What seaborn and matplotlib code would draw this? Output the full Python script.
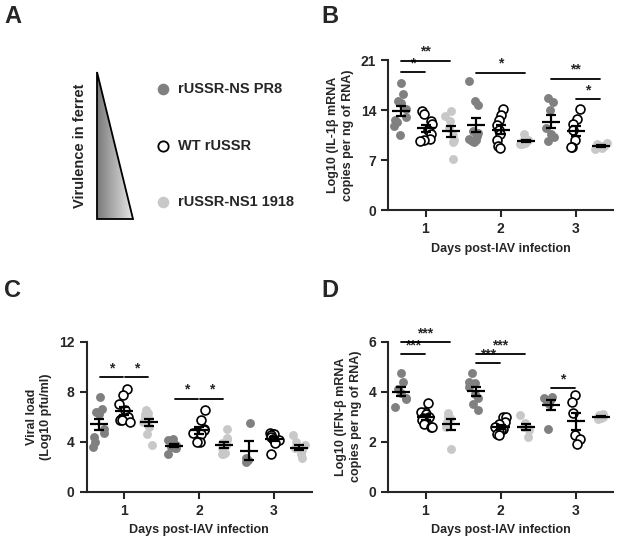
import numpy as np
import pandas as pd
import matplotlib
matplotlib.use("Agg")
import matplotlib.pyplot as plt
import seaborn as sns
from matplotlib.patches import Polygon
from matplotlib.colors import LinearSegmentedColormap

# ---------------- data ----------------
groups = ["rUSSR-NS PR8", "WT rUSSR", "rUSSR-NS1 1918"]
days = [1, 2, 3]
day_labels = ["1", "2", "3"]

# Panel B: Log10 IL-1beta mRNA copies (per group, per day)
il1b_pr8 = [[17.8, 16.3, 15.3, 15.0, 14.2, 13.0, 12.6, 12.3, 11.7, 10.5],
            [18.0, 15.2, 14.7, 11.0, 10.8, 10.3, 10.0, 9.8, 9.6, 9.5],
            [15.7, 15.1, 14.0, 11.5, 10.6, 10.2, 9.6]]
il1b_wt = [[13.8, 13.4, 12.5, 12.0, 11.2, 10.6, 10.0, 9.8, 9.6],
           [14.2, 13.3, 12.6, 11.9, 11.2, 10.6, 9.8, 9.0, 8.7],
           [14.1, 12.7, 12.0, 11.2, 9.8, 8.8, 8.8]]
il1b_1918 = [[13.9, 13.2, 12.5, 11.5, 10.5, 9.8, 9.5, 7.2],
             [10.6, 9.8, 9.6, 9.5, 9.5, 9.4, 9.3, 9.2],
             [9.4, 9.2, 9.0, 9.0, 8.9, 8.8, 8.7, 8.6]]

# Panel C: viral load, Log10 pfu/ml
vl_pr8 = [[7.6, 6.6, 6.4, 6.2, 5.0, 4.7, 4.4, 4.0, 3.6],
          [4.2, 4.1, 3.9, 3.7, 3.6, 3.5, 3.5, 3.0],
          [5.5, 2.7, 2.5, 2.4]]
vl_wt = [[8.2, 7.7, 7.0, 6.5, 6.0, 5.8, 5.7, 5.7, 5.6],
         [6.5, 5.7, 5.0, 4.9, 4.8, 4.7, 4.6, 4.0, 4.0],
         [4.7, 4.6, 4.6, 4.5, 4.4, 4.2, 4.1, 3.9, 3.0]]
vl_1918 = [[6.5, 6.3, 6.2, 6.0, 5.8, 5.6, 5.2, 4.6, 3.7],
           [5.0, 4.3, 4.1, 3.9, 3.7, 3.5, 3.1, 3.0, 3.0],
           [4.5, 4.0, 3.7, 3.5, 3.3, 3.0, 2.7]]

# Panel D: Log10 IFN-beta mRNA copies
ifn_pr8 = [[4.75, 4.4, 4.1, 3.95, 3.75, 3.7, 3.4],
           [4.75, 4.4, 4.35, 4.2, 3.9, 3.75, 3.5, 3.25],
           [3.8, 3.75, 3.7, 3.6, 3.5, 2.5]]
ifn_wt = [[3.55, 3.2, 3.2, 3.1, 3.0, 2.95, 2.85, 2.7, 2.6, 2.6],
          [3.0, 3.0, 2.8, 2.7, 2.6, 2.5, 2.45, 2.4, 2.3, 2.25],
          [3.85, 3.6, 3.15, 2.25, 2.1, 1.9]]
ifn_1918 = [[3.15, 3.0, 2.95, 2.8, 2.6, 1.7],
            [3.05, 2.75, 2.6, 2.55, 2.45, 2.2],
            [3.1, 3.05, 3.0, 3.0, 2.95, 2.9]]

# significance: (day, group_a, group_b, height, label)
sig_b = [(1, 0, 1, 19.3, "*"), (1, 0, 2, 20.9, "**"), (2, 0, 2, 19.2, "*"),
         (3, 0, 2, 18.4, "**"), (3, 1, 2, 15.5, "*")]
sig_c = [(1, 0, 1, 9.15, "*"), (1, 1, 2, 9.15, "*"),
         (2, 0, 1, 7.45, "*"), (2, 1, 2, 7.45, "*")]
sig_d = [(1, 0, 1, 5.5, "***"), (1, 0, 2, 5.97, "***"),
         (2, 0, 1, 5.13, "***"), (2, 0, 2, 5.5, "***"), (3, 0, 1, 4.13, "*")]

# ---------------- style ----------------
sns.set_style("ticks")
plt.rcParams["font.family"] = ["Liberation Sans", "DejaVu Sans"]
plt.rcParams["font.weight"] = "bold"
plt.rcParams["axes.labelweight"] = "bold"

DARK = "#808080"
LIGHT = "#c8c8c8"
face = [DARK, "white", LIGHT]
edge = [DARK, "black", LIGHT]
lws = [0, 1.2, 0]
offsets = [-1 / 3, 0, 1 / 3]

fig = plt.figure(figsize=(6.18, 5.52), dpi=100)
W, H = 618, 552


def add_ax(x0, y_bottom, w, h):
    return fig.add_axes([x0 / W, 1 - y_bottom / H, w / W, h / H])


def panel(ax, series, ylim, yticks, ylabel, sig):
    rows = []
    for gi, g in enumerate(groups):
        for di, d in enumerate(days):
            for v in series[gi][di]:
                rows.append((g, d, d + offsets[gi], v))
    df = pd.DataFrame(rows, columns=["group", "day", "xpos", "value"])
    np.random.seed(3)
    for gi, g in enumerate(groups):
        sub = df[df["group"] == g]
        sns.stripplot(data=sub, x="xpos", y="value", native_scale=True, orient="x",
                      jitter=0.09, color=face[gi], edgecolor=edge[gi],
                      linewidth=lws[gi], size=6.4, ax=ax, zorder=2)
        st = sub.groupby("xpos")["value"].agg(["mean", "sem"]).reset_index()
        ax.errorbar(st["xpos"], st["mean"], yerr=st["sem"], fmt="none",
                    ecolor="black", elinewidth=1.6, capsize=3.6, capthick=1.6, zorder=4)
        ax.hlines(st["mean"], st["xpos"] - 0.12, st["xpos"] + 0.12,
                  color="black", lw=1.6, zorder=4)
    for d, a, b, yv, lab in sig:
        xa = d + offsets[a] + 0.01
        xb = d + offsets[b] - 0.01
        ax.plot([xa, xb], [yv, yv], color="black", lw=1.3, clip_on=False, zorder=5)
        ax.annotate(lab, xy=((xa + xb) / 2, yv), xytext=(0, 1.5),
                    textcoords="offset points", ha="center", va="bottom",
                    fontsize=10, fontweight="bold", annotation_clip=False)
    ax.set_xlim(0.5, 3.5)
    ax.set_ylim(*ylim)
    ax.set_yticks(yticks)
    ax.set_xticks(days)
    ax.set_xticklabels(day_labels)
    ax.set_xlabel("Days post-IAV infection", fontsize=9, fontweight="bold", labelpad=5)
    ax.set_ylabel(ylabel, fontsize=9, fontweight="bold", labelpad=5, linespacing=1.3)
    sns.despine(ax=ax)
    for s in ("left", "bottom"):
        ax.spines[s].set_linewidth(1.5)
    ax.tick_params(axis="both", direction="out", length=5, width=1.5, labelsize=10)
    for t in ax.get_xticklabels() + ax.get_yticklabels():
        t.set_fontweight("bold")


axB = add_ax(388, 210, 225, 150)
panel(axB, [il1b_pr8, il1b_wt, il1b_1918], (0, 21), [0, 7, 14, 21],
      "Log10 (IL-1\u03b2 mRNA\ncopies per ng of RNA)", sig_b)
axC = add_ax(86.5, 491.7, 225, 150)
panel(axC, [vl_pr8, vl_wt, vl_1918], (0, 12), [0, 4, 8, 12],
      "Viral load\n(Log10 pfu/ml)", sig_c)
axD = add_ax(388, 491.7, 225, 150)
panel(axD, [ifn_pr8, ifn_wt, ifn_1918], (0, 6), [0, 2, 4, 6],
      "Log10 (IFN-\u03b2 mRNA\ncopies per ng of RNA)", sig_d)

# ---------------- panel A ----------------
axA = fig.add_axes([0, 1 - 270 / H, 300 / W, 270 / H])
grad = np.linspace(0, 1, 256).reshape(1, -1)
cmap = LinearSegmentedColormap.from_list("g", ["#7a7a7a", "#e8e8e8"])
im = axA.imshow(grad, extent=(97, 133, 219, 72), cmap=cmap, aspect="auto", zorder=1)
tri = Polygon([(97, 72), (97, 219), (133, 219)], closed=True, facecolor="none",
              edgecolor="black", lw=1.3, zorder=2)
axA.add_patch(tri)
im.set_clip_path(tri)
axA.set_xlim(0, 300)
axA.set_ylim(270, 0)
axA.axis("off")
axA.text(80, 146, "Virulence in ferret", rotation=90, ha="center", va="center",
         fontsize=10.5, fontweight="bold")
for gi, (yy, g) in enumerate(zip([89, 146, 202], groups)):
    axA.scatter([163], [yy], s=70 if gi != 1 else 55, color=face[gi], edgecolors=edge[gi],
                linewidths=1.3 if gi == 1 else 0, zorder=3)
    axA.text(178, yy, g, ha="left", va="center", fontsize=10.5, fontweight="bold")

for lab, (px, py) in zip("ABCD", [(4, 5), (321, 5), (4, 279), (321, 279)]):
    fig.text(px / W, 1 - py / H, lab, ha="left", va="top", fontsize=17, fontweight="bold")

fig.savefig("out.png", dpi=100)
